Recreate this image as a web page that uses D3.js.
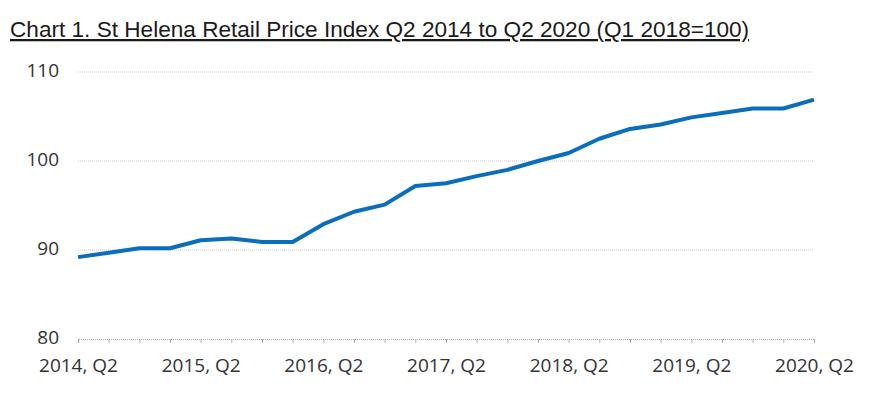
<!DOCTYPE html>
<html>
<head>
<meta charset="utf-8">
<script src="https://cdn.jsdelivr.net/npm/d3@7"></script>
<style>
  body { margin: 0; background: #fff; }
</style>
</head>
<body>
<svg id="chart" width="881" height="398"></svg>
<script>
var quarters = [
    "2014, Q2", "2014, Q3", "2014, Q4", "2015, Q1",
    "2015, Q2", "2015, Q3", "2015, Q4", "2016, Q1",
    "2016, Q2", "2016, Q3", "2016, Q4", "2017, Q1",
    "2017, Q2", "2017, Q3", "2017, Q4", "2018, Q1",
    "2018, Q2", "2018, Q3", "2018, Q4", "2019, Q1",
    "2019, Q2", "2019, Q3", "2019, Q4", "2020, Q1",
    "2020, Q2"
];
var rpi = [
    89.2, 89.7, 90.2, 90.2,
    91.1, 91.3, 90.9, 90.9,
    92.9, 94.3, 95.1, 97.2,
    97.5, 98.3, 99.0, 100.0,
    100.9, 102.5, 103.6, 104.1,
    104.9, 105.4, 105.9, 105.9,
    106.9
];
var yTicks = [80, 90, 100, 110];
var labelEvery = 4;

var svg = d3.select("#chart");
var margin = {left: 78, right: 67, top: 72, bottom: 59};
var width = 881, height = 398;
var labelFont = "Open Sans, sans-serif";

svg.append("text")
    .text("Chart 1. St Helena Retail Price Index Q2 2014 to Q2 2020 (Q1 2018=100)")
    .attr("x", 10)
    .attr("y", 37)
    .attr("font-family", "Liberation Sans, Arial, sans-serif")
    .attr("font-size", 22.6)
    .attr("text-decoration", "underline")
    .attr("fill", "#1a1a1a");

var x = d3.scalePoint()
    .domain(quarters)
    .range([margin.left, width - margin.right]);

var y = d3.scaleLinear()
    .domain([80, 110])
    .range([height - margin.bottom, margin.top]);

// gridlines
svg.append("g")
    .selectAll("line")
    .data(yTicks.slice(1))
    .enter()
    .append("line")
    .attr("x1", margin.left)
    .attr("x2", width - margin.right)
    .attr("y1", function(d) { return y(d); })
    .attr("y2", function(d) { return y(d); })
    .style("stroke", "#c8c8c8")
    .style("stroke-width", 1)
    .style("stroke-dasharray", "1,1");

// y labels
svg.append("g")
    .selectAll("text")
    .data(yTicks)
    .enter()
    .append("text")
    .text(function(d) { return d; })
    .attr("x", 59)
    .attr("y", function(d) { return y(d) + 5; })
    .attr("text-anchor", "end")
    .attr("font-family", labelFont)
    .attr("font-size", 19)
    .attr("fill", "#333");

// x axis
var xAxis = d3.axisBottom(x)
    .tickSize(4)
    .tickFormat(function(d, i) { return i % labelEvery === 0 ? d : ""; });

var gx = svg.append("g")
    .attr("transform", "translate(0," + y(80) + ")")
    .call(xAxis);
gx.select(".domain")
    .style("stroke", "#b0b0b0")
    .style("stroke-dasharray", "1,1");
gx.selectAll(".tick line").style("stroke", "#b0b0b0");
gx.selectAll(".tick text")
    .attr("y", 33)
    .attr("dy", 0)
    .attr("font-family", labelFont)
    .attr("font-size", 19)
    .attr("fill", "#333");

// line
var line = d3.line()
    .x(function(d, i) { return x(quarters[i]); })
    .y(function(d) { return y(d); });

svg.append("path")
    .datum(rpi)
    .attr("d", line)
    .style("fill", "none")
    .style("stroke", "#0a6ebd")
    .style("stroke-width", 4)
    .style("stroke-linejoin", "round");
</script>
</body>
</html>
